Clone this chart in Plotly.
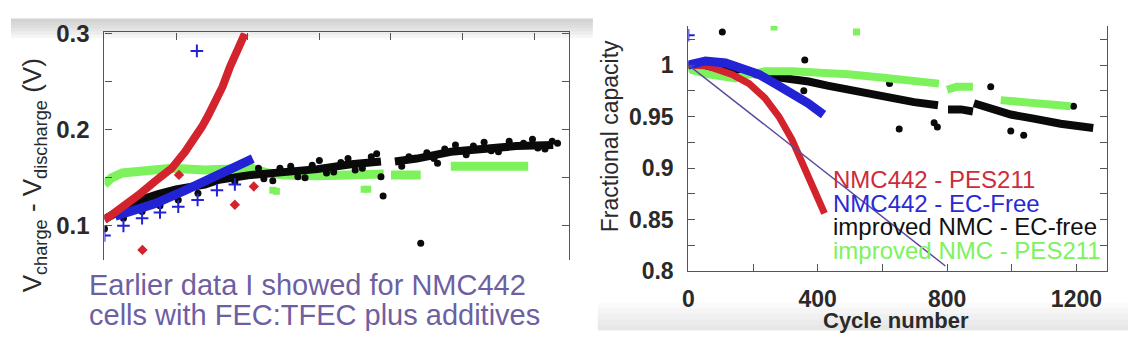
import plotly.graph_objects as go

W, H = 1132, 351

# ---------------- Left panel data: V_charge - V_discharge vs cycle ----------------
L_red_cyc = [0, 50, 95, 140, 188, 225, 250, 272, 290, 310, 330, 350, 370, 392]
L_red_v = [0.106, 0.119, 0.132, 0.146, 0.160, 0.177, 0.190, 0.203, 0.215, 0.228, 0.245, 0.265, 0.283, 0.300]
L_red_pts_cyc = [106, 208, 364, 417]
L_red_pts_v = [0.075, 0.153, 0.122, 0.141]

L_blue_cyc = [30, 90, 140, 225, 280, 317, 365, 414]
L_blue_v = [0.110, 0.117, 0.123, 0.137, 0.146, 0.153, 0.161, 0.170]
L_blue_pts_cyc = [0, 53, 105, 155, 206, 260, 314, 364, 258]
L_blue_pts_v = [0.090, 0.100, 0.108, 0.114, 0.120, 0.127, 0.137, 0.143, 0.282]

L_green_cyc = [0, 20, 50, 114, 188, 280, 317, 411, 456, 503, 600, 700, 780, None,
               800, 883, None, 967, 1183]
L_green_v = [0.143, 0.150, 0.155, 0.158, 0.160, 0.158, 0.158, 0.160, 0.155, 0.153, 0.152, 0.153, 0.154, None,
             0.153, 0.153, None, 0.162, 0.162]
L_green_pts_cyc = [470, 480, 725, 735]
L_green_pts_v = [0.137, 0.136, 0.138, 0.138]

L_black_cyc = [0, 50, 100, 150, 200, 280, 320, 410, 500, 594, 689, 772, None,
               811, 872, 967, 1058, 1150, 1253]
L_black_v = [0.107, 0.118, 0.127, 0.133, 0.138, 0.143, 0.148, 0.153, 0.155, 0.159, 0.164, 0.167, None,
             0.167, 0.170, 0.177, 0.180, 0.183, 0.184]
L_black_pts_cyc = [0, 53, 105, 155, 206, 261, 364, 430, 470, 520, 560, 600, 640, 680, 700, 745,
                   760, 772, 778, 883, 830, 900, 930, 980, 1010, 1060, 1100, 1130, 1195, 1230, 1265,
                   445, 490, 540, 580, 620, 660, 720, 850, 920, 950, 1030, 1080, 1170, 1210, 1250]
L_black_pts_v = [0.097, 0.108, 0.115, 0.121, 0.127, 0.134, 0.146, 0.160, 0.147, 0.162, 0.150, 0.168,
                 0.156, 0.170, 0.158, 0.172, 0.175, 0.151, 0.131, 0.082, 0.162, 0.176, 0.165, 0.184,
                 0.174, 0.187, 0.177, 0.188, 0.190, 0.180, 0.186,
                 0.149, 0.160, 0.151, 0.163, 0.155, 0.166, 0.160, 0.172, 0.170, 0.180, 0.183, 0.178,
                 0.186, 0.181, 0.188]

# ---------------- Right panel data: fractional capacity vs cycle ----------------
R_red_cyc = [0, 60, 135, 188, 237, 280, 320, 360, 390, 421]
R_red_v = [1.0, 0.999, 0.991, 0.982, 0.968, 0.950, 0.928, 0.898, 0.877, 0.856]

R_blue_cyc = [0, 53, 115, 166, 218, 268, 320, 370, 418]
R_blue_v = [1.0, 1.004, 1.002, 0.997, 0.991, 0.982, 0.973, 0.963, 0.952]
R_blue_pts_cyc = [0]
R_blue_pts_v = [1.029]

R_green_cyc = [0, 12, 64, 110, 145, 175, 237, 320, 420, 494, 597, 700, 775, None,
               800, 830, 880, None, 966, 1080, 1182]
R_green_v = [1.0, 0.995, 0.991, 0.989, 0.987, 0.990, 0.994, 0.994, 0.993, 0.991, 0.988, 0.985, 0.982, None,
             0.976, 0.979, 0.979, None, 0.966, 0.963, 0.960]
R_green_pts_cyc = [520, 265]
R_green_pts_v = [1.032, 1.037]

R_black_cyc = [0, 100, 166, 240, 320, 372, 430, 494, 597, 698, 772, None,
               803, 843, 880, None, 883, 945, 997, 1068, 1151, 1252]
R_black_v = [1.0, 0.996, 0.994, 0.991, 0.988, 0.984, 0.980, 0.976, 0.969, 0.964, 0.961, None,
             0.957, 0.957, 0.955, None, 0.963, 0.956, 0.952, 0.948, 0.943, 0.939]
R_black_pts_cyc = [105, 360, 357, 622, 652, 760, 770, 935, 997, 1037, 1191]
R_black_pts_v = [1.032, 1.005, 0.975, 0.982, 0.938, 0.944, 0.940, 0.979, 0.936, 0.932, 0.960]

R_ref_cyc = [0, 795]
R_ref_v = [1.0, 0.805]

legend_labels = ["NMC442 - PES211", "NMC442 - EC-Free", "improved NMC - EC-free", "improved NMC - PES211"]
caption_lines = ["Earlier data I showed for NMC442", "cells with FEC:TFEC plus additives"]

RED = "#d3242e"
BLUE = "#2323d6"
BLACK = "#0a0a0a"
GREEN = "#7ef25c"
PURPLE = "#5b4b9c"
AXC = "#555555"
TXT = "#2a2a2a"
FONT = "Liberation Sans, Arial, sans-serif"

fig = go.Figure()

def line(x, y, color, width, xa="x", ya="y"):
    fig.add_trace(go.Scatter(x=x, y=y, mode="lines", line=dict(color=color, width=width),
                             connectgaps=False, xaxis=xa, yaxis=ya, showlegend=False, hoverinfo="skip"))

def pts(x, y, color, size, symbol="circle", xa="x", ya="y"):
    mk = dict(color=color, size=size, symbol=symbol)
    if "thin" in symbol:
        mk["line"] = dict(color=color, width=2)
    fig.add_trace(go.Scatter(x=x, y=y, mode="markers", marker=mk, xaxis=xa, yaxis=ya,
                             showlegend=False, hoverinfo="skip", cliponaxis=True))

# left panel
line(L_green_cyc, L_green_v, GREEN, 9)
pts(L_green_pts_cyc, L_green_pts_v, GREEN, 7, "square")
line(L_black_cyc, L_black_v, BLACK, 8)
pts(L_black_pts_cyc, L_black_pts_v, BLACK, 7)
line(L_blue_cyc, L_blue_v, BLUE, 9)
pts(L_blue_pts_cyc, L_blue_pts_v, BLUE, 9, "cross-thin")
line(L_red_cyc, L_red_v, RED, 8)
pts(L_red_pts_cyc, L_red_pts_v, RED, 8, "diamond")

# right panel
line(R_black_cyc, R_black_v, BLACK, 8, "x2", "y2")
pts(R_black_pts_cyc, R_black_pts_v, BLACK, 7, "circle", "x2", "y2")
line(R_green_cyc, R_green_v, GREEN, 8, "x2", "y2")
pts(R_green_pts_cyc, R_green_pts_v, GREEN, 7, "square", "x2", "y2")
line(R_red_cyc, R_red_v, RED, 7, "x2", "y2")
line(R_blue_cyc, R_blue_v, BLUE, 9, "x2", "y2")
pts(R_blue_pts_cyc, R_blue_pts_v, BLUE, 9, "cross-thin", "x2", "y2")
line(R_ref_cyc, R_ref_v, PURPLE, 1.5, "x2", "y2")

def px_x(p):
    return p / W

def px_y(p):
    return 1 - p / H

tickfont = dict(family=FONT, size=24, color=TXT, weight="bold")

fig.update_layout(
    width=W, height=H,
    margin=dict(l=0, r=0, t=0, b=0),
    paper_bgcolor="white", plot_bgcolor="rgba(0,0,0,0)",
    xaxis=dict(domain=[px_x(99), px_x(566)], range=[0, 1297], side="top",
               showline=True, linecolor=AXC, linewidth=1.2, ticks="inside", ticklen=7,
               tickcolor=AXC, dtick=200, tick0=0, showticklabels=False, showgrid=False,
               zeroline=False, anchor="y"),
    yaxis=dict(domain=[px_y(267), px_y(22)], range=[0.0645, 0.3012],
               showline=True, linecolor=AXC, linewidth=1.2, mirror="ticks", ticks="inside",
               ticklen=7, tickcolor=AXC, tick0=0.1, dtick=0.1, tickformat=".1f",
               minor=dict(ticks="inside", dtick=0.05, tick0=0.1, ticklen=7, tickcolor=AXC, showgrid=False),
               tickfont=tickfont, ticklabelstandoff=9, showgrid=False, zeroline=False, anchor="x"),
    xaxis2=dict(domain=[px_x(686), px_x(1107)], range=[0, 1295],
                showline=True, linecolor=AXC, linewidth=1.2, ticks="inside", ticklen=7,
                tickcolor=AXC, tick0=0, dtick=400,
                minor=dict(ticks="inside", dtick=200, ticklen=7, tickcolor=AXC, showgrid=False),
                tickfont=dict(family=FONT, size=23, color=TXT, weight="bold"),
                ticklabelstandoff=7, showgrid=False, zeroline=False, anchor="y2"),
    yaxis2=dict(domain=[px_y(279), px_y(15)], range=[0.8, 1.038],
                showline=True, linecolor=AXC, linewidth=1.2, mirror="ticks", ticks="inside",
                ticklen=7, tickcolor=AXC, tick0=0.8, dtick=0.05,
                minor=dict(ticks="inside", dtick=0.025, tick0=0.8, ticklen=7, tickcolor=AXC, showgrid=False),
                tickfont=dict(family=FONT, size=23, color=TXT, weight="bold"),
                ticklabelstandoff=9, showgrid=False, zeroline=False, anchor="x2"),
)

shapes = []
# top gray gradient of left slide
for i in range(1, 7):
    shapes.append(dict(type="rect", xref="paper", yref="paper", x0=px_x(5), x1=px_x(590),
                       y0=px_y(7 + 3.5 * i), y1=px_y(7), fillcolor="#999999", opacity=0.09,
                       line=dict(width=0), layer="below"))
# bottom gray band of right slide
for i in range(1, 6):
    shapes.append(dict(type="rect", xref="paper", yref="paper", x0=px_x(595), x1=px_x(1128),
                       y0=px_y(343), y1=px_y(343 - 6 * i), fillcolor="#b0b0b0", opacity=0.06,
                       line=dict(width=0), layer="below"))
fig.update_layout(shapes=shapes)

ann = []
ann.append(dict(x=px_x(28), y=px_y(176), xref="paper", yref="paper", textangle=-90,
                text="V<sub>charge</sub> - V<sub>discharge</sub> (V)", showarrow=False,
                font=dict(family=FONT, size=26, color=TXT),
                xanchor="center", yanchor="middle"))
for i, t in enumerate(caption_lines):
    ann.append(dict(x=px_x(81), y=px_y(294 + 32 * i), xref="paper", yref="paper", text=t,
                    showarrow=False, xanchor="left", yanchor="middle",
                    font=dict(family=FONT, size=29, color="#6e5fa3")))
ann.append(dict(x=px_x(608), y=px_y(134), xref="paper", yref="paper", textangle=-90,
                text="Fractional capacity", showarrow=False,
                font=dict(family=FONT, size=23, color=TXT),
                xanchor="center", yanchor="middle"))
ann.append(dict(x=px_x(895), y=px_y(332), xref="paper", yref="paper", text="Cycle number",
                showarrow=False, xanchor="center", yanchor="middle",
                font=dict(family=FONT, size=22, color=TXT, weight="bold")))
leg_colors = ["#cf2b3a", "#2a2ad6", "#111111", "#7ef25c"]
for i, (t, c) in enumerate(zip(legend_labels, leg_colors)):
    ann.append(dict(x=px_x(829), y=px_y(180 + 25.7 * i), xref="paper", yref="paper", text=t,
                    showarrow=False, xanchor="left", yanchor="middle",
                    font=dict(family=FONT, size=24, color=c)))
fig.update_layout(annotations=ann)

fig.write_html("out.html")
